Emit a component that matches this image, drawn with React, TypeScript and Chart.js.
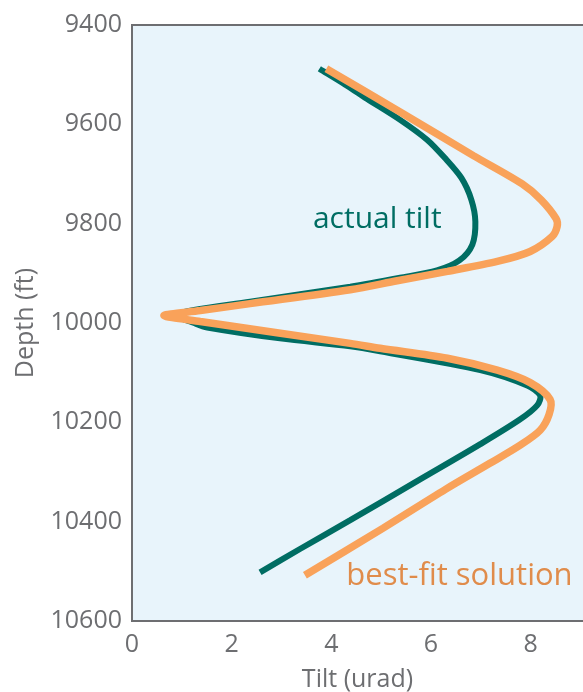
import React, { useEffect, useRef } from "react";
import { Chart, registerables } from "chart.js";

Chart.register(...registerables);

// Tilt (urad) vs depth (ft) along the borehole
const actualTilt: number[] = [3.76, 4.28, 4.72, 5.38, 5.92, 6.27, 6.61, 6.81, 6.89, 6.83, 6.57, 6.12, 5.38, 4.38, 2.37, 0.86, 1.27, 1.51, 2.97, 4.38, 4.98, 6.99, 7.93, 8.19, 8.13, 7.79, 6.99, 5.78, 4.38, 3.37, 2.57];
const actualDepth: number[] = [9488, 9520, 9549, 9591, 9631, 9667, 9708, 9752, 9796, 9842, 9874, 9894, 9909, 9927, 9957, 9983, 10001, 10009, 10031, 10047, 10057, 10095, 10126, 10146, 10166, 10194, 10244, 10315, 10397, 10455, 10502];

const fitTilt: number[] = [3.9, 5.38, 6.85, 7.83, 8.21, 8.51, 8.53, 8.43, 7.99, 7.33, 6.33, 5.32, 4.38, 2.37, 1.37, 0.64, 1.37, 4.38, 4.98, 6.33, 7.33, 7.99, 8.39, 8.37, 8.19, 7.79, 7.19, 6.29, 5.04, 3.47];
const fitDepth: number[] = [9488, 9575, 9663, 9720, 9752, 9790, 9806, 9826, 9856, 9876, 9896, 9915, 9933, 9961, 9975, 9985, 9997, 10041, 10051, 10071, 10095, 10120, 10154, 10184, 10216, 10246, 10282, 10335, 10413, 10508];

const tiltTicks: number[] = [0, 2, 4, 6, 8];
const depthTicks: number[] = [9400, 9600, 9800, 10000, 10200, 10400, 10600];

const seriesLabels = { actual: "actual tilt", fit: "best-fit solution" };
// label anchors in data units: [tilt, depth]
const actualLabelAt: [number, number] = [3.63, 9808];
const fitLabelAt: [number, number] = [4.3, 10528];

const TEAL = "#006d63";
const ORANGE = "#f9a25a";
const ORANGE_TEXT = "#e08c4b";
const GREY = "#6d6e71";
const PLOT_BG = "#e8f4fb";
const FONT = "'Open Sans', 'Noto Sans', sans-serif";

const toPoints = (xs: number[], ys: number[]) => xs.map((x, i) => ({ x, y: ys[i] }));

const frame = {
  id: "frame",
  beforeDatasetsDraw(chart: any) {
    const { ctx, chartArea: a } = chart;
    ctx.save();
    ctx.fillStyle = PLOT_BG;
    ctx.fillRect(a.left, a.top, a.right - a.left, a.bottom - a.top);
    ctx.strokeStyle = GREY;
    ctx.lineWidth = 2;
    ctx.beginPath();
    ctx.moveTo(a.right, a.top);
    ctx.lineTo(a.left, a.top);
    ctx.lineTo(a.left, a.bottom);
    ctx.lineTo(a.right, a.bottom);
    ctx.stroke();
    ctx.restore();
  },
  afterDatasetsDraw(chart: any) {
    const { ctx, scales } = chart;
    const x = scales.x;
    const y = scales.y;
    ctx.save();
    ctx.textAlign = "left";
    ctx.textBaseline = "alphabetic";
    ctx.font = `30px ${FONT}`;
    ctx.fillStyle = TEAL;
    ctx.fillText(seriesLabels.actual, x.getPixelForValue(actualLabelAt[0]), y.getPixelForValue(actualLabelAt[1]));
    ctx.font = `31px ${FONT}`;
    ctx.fillStyle = ORANGE_TEXT;
    ctx.fillText(seriesLabels.fit, x.getPixelForValue(fitLabelAt[0]), y.getPixelForValue(fitLabelAt[1]));
    ctx.restore();
  },
};

export default function App() {
  const ref = useRef<HTMLCanvasElement | null>(null);

  useEffect(() => {
    if (!ref.current) return;
    const chart = new Chart(ref.current, {
      type: "scatter",
      data: {
        datasets: [
          {
            label: seriesLabels.fit,
            data: toPoints(fitTilt, fitDepth),
            showLine: true,
            borderColor: ORANGE,
            borderWidth: 7.5,
            pointRadius: 0,
            tension: 0.3,
            borderJoinStyle: "bevel",
            order: 0,
          },
          {
            label: seriesLabels.actual,
            data: toPoints(actualTilt, actualDepth),
            showLine: true,
            borderColor: TEAL,
            borderWidth: 6,
            pointRadius: 0,
            tension: 0.3,
            borderJoinStyle: "bevel",
            order: 1,
          },
        ],
      },
      options: {
        responsive: false,
        animation: false,
        layout: { padding: { top: 18, right: 0, left: 0, bottom: 0 } },
        plugins: { legend: { display: false }, tooltip: { enabled: false } },
        scales: {
          x: {
            type: "linear",
            min: 0,
            max: 9.05,
            grid: { display: false, drawTicks: false },
            border: { display: false },
            afterBuildTicks: (s: any) => {
              s.ticks = tiltTicks.map((v) => ({ value: v }));
            },
            afterFit: (s: any) => {
              s.height = 71;
            },
            ticks: {
              color: GREY,
              font: { family: FONT, size: 25 },
              padding: 9,
              maxRotation: 0,
              callback: (v: any) => String(v),
            },
            title: {
              display: true,
              text: "Tilt (urad)",
              color: GREY,
              font: { family: FONT, size: 25, lineHeight: 1 },
              padding: { top: 0, bottom: 0 },
            },
          },
          y: {
            type: "linear",
            reverse: true,
            min: 9400,
            max: 10600,
            grid: { display: false, drawTicks: false },
            border: { display: false },
            afterBuildTicks: (s: any) => {
              s.ticks = depthTicks.map((v) => ({ value: v }));
            },
            afterFit: (s: any) => {
              s.width = 132;
            },
            ticks: {
              color: GREY,
              font: { family: FONT, size: 25 },
              padding: 10,
              callback: (v: any) => String(v),
            },
            title: {
              display: true,
              text: "Depth (ft)",
              color: GREY,
              font: { family: FONT, size: 25, lineHeight: 1 },
              padding: { top: 13, bottom: 0 },
            },
          },
        },
      },
      plugins: [frame],
    } as any);
    return () => chart.destroy();
  }, []);

  return (
    <div style={{ position: "fixed", left: 0, top: 0, width: 583, height: 692, background: "#fff" }}>
      <canvas ref={ref} width={583} height={692} />
    </div>
  );
}
